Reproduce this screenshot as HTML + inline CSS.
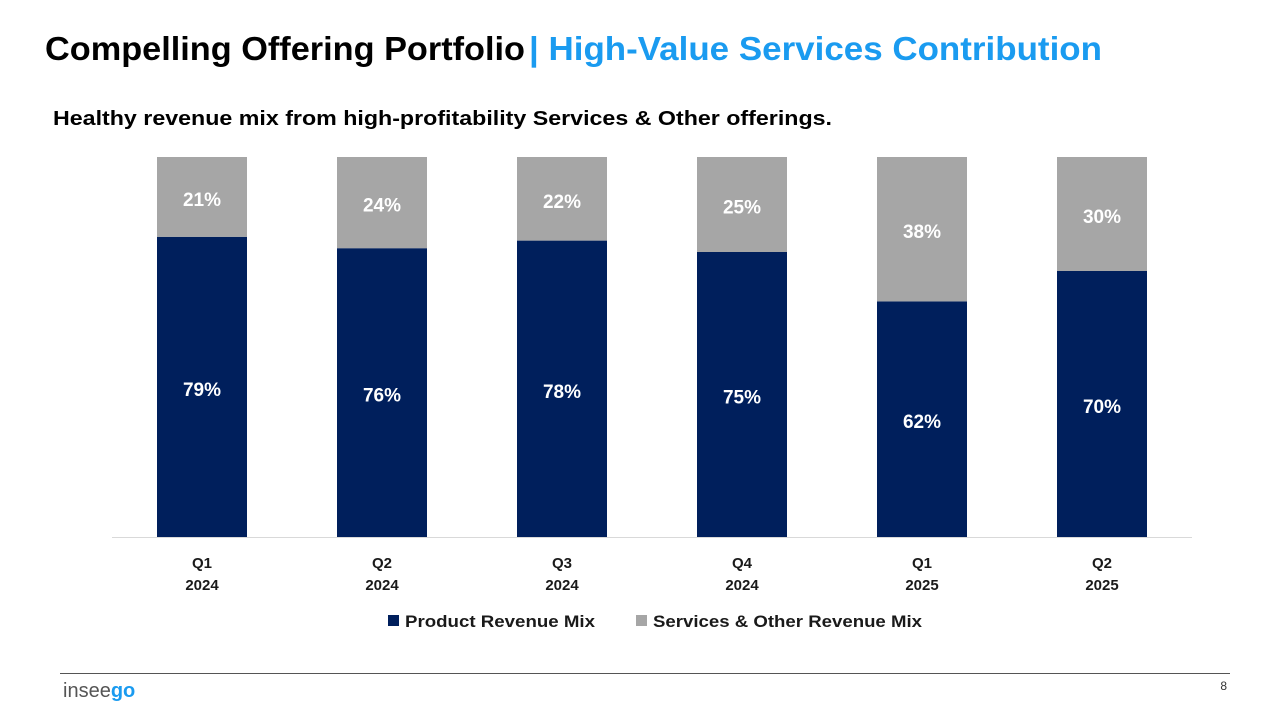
<!DOCTYPE html>
<html><head><meta charset="utf-8"><style>
body{margin:0;background:#fff;}
svg{display:block;font-family:"Liberation Sans",sans-serif;}
</style></head><body>
<svg id="chart" width="1284" height="717" viewBox="0 0 1284 717">
<text x="45" y="60" font-size="33" font-weight="bold" fill="#000" textLength="480" lengthAdjust="spacingAndGlyphs">Compelling Offering Portfolio</text>
<text x="529" y="60" font-size="33" font-weight="bold" fill="#1a9bf0" textLength="573" lengthAdjust="spacingAndGlyphs">| High-Value Services Contribution</text>
<text x="53" y="125" font-size="20" font-weight="bold" fill="#000" textLength="779" lengthAdjust="spacingAndGlyphs">Healthy revenue mix from high-profitability Services &amp; Other offerings.</text>
<line x1="112" y1="537.5" x2="1192" y2="537.5" stroke="#d9d9d9" stroke-width="1"/>
<g id="bars"></g>
<g>
<rect x="388" y="615" width="11" height="11" fill="#001f5c"/>
<text x="405" y="627" font-size="17" font-weight="bold" fill="#1a1a1a" textLength="190" lengthAdjust="spacingAndGlyphs">Product Revenue Mix</text>
<rect x="636" y="615" width="11" height="11" fill="#a6a6a6"/>
<text x="653" y="627" font-size="17" font-weight="bold" fill="#1a1a1a" textLength="269" lengthAdjust="spacingAndGlyphs">Services &amp; Other Revenue Mix</text>
</g>
<line x1="60" y1="673.5" x2="1230" y2="673.5" stroke="#555" stroke-width="1"/>
<text x="63" y="697" font-size="20" fill="#555">insee<tspan fill="#1a9bf0" font-weight="bold">go</tspan></text>
<text x="1227" y="690" font-size="12" fill="#333" text-anchor="end">8</text>
</svg>
<script>
const quarters=["Q1","Q2","Q3","Q4","Q1","Q2"];
const years=["2024","2024","2024","2024","2025","2025"];
const product=[79,76,78,75,62,70];
const services=[21,24,22,25,38,30];
const NS="http://www.w3.org/2000/svg";
const g=document.getElementById("bars");
const top0=157,bottom=537,bw=90;
const y=v=>bottom-(v/100)*(bottom-top0);
const xc=i=>202+i*180;
function mk(tag,attrs){const e=document.createElementNS(NS,tag);for(const k in attrs)e.setAttribute(k,attrs[k]);g.appendChild(e);return e;}
quarters.forEach((q,i)=>{
  const p=product[i],s=services[i];
  const r1=mk("rect",{x:xc(i)-bw/2,y:y(p),width:bw,height:bottom-y(p),fill:"#001f5c"});
  
  
  const r2=mk("rect",{x:xc(i)-bw/2,y:y(p+s),width:bw,height:y(p)-y(p+s),fill:"#a6a6a6"});
  
  
  const t1=mk("text",{x:xc(i),y:(y(p)+bottom)/2+9,"text-anchor":"middle","font-size":"19","font-weight":"bold",fill:"#fff"});
  t1.textContent=p+"%";
  
  
  const t2=mk("text",{x:xc(i),y:(y(p)+y(p+s))/2+9,"text-anchor":"middle","font-size":"19","font-weight":"bold",fill:"#fff"});
  t2.textContent=s+"%";
  
  
  const tq=mk("text",{x:xc(i),y:568,"text-anchor":"middle","font-size":"15","font-weight":"bold",fill:"#1a1a1a"});
  tq.textContent=q;
  
  
  const ty=mk("text",{x:xc(i),y:590,"text-anchor":"middle","font-size":"15","font-weight":"bold",fill:"#1a1a1a"});
  ty.textContent=years[i];
  
  
});
</script>
</body></html>
